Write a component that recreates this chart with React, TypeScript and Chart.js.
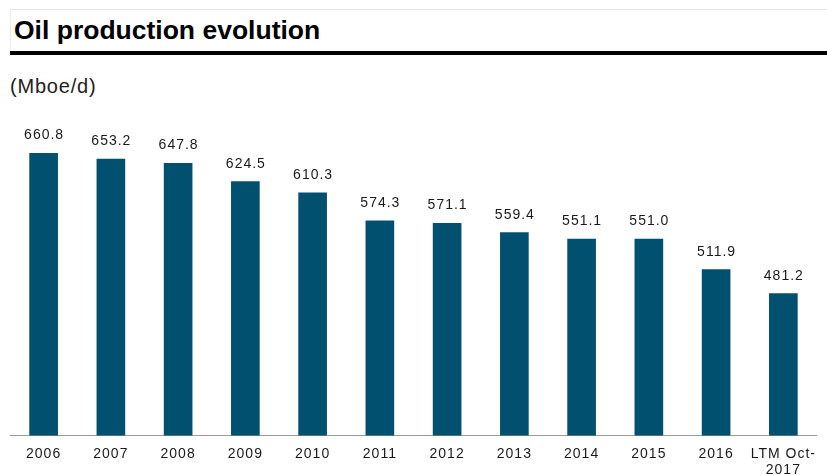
import React, { useEffect, useRef } from "react";
import { Chart, registerables } from "chart.js";

Chart.register(...registerables);

const categories: (string | string[])[] = [
  "2006", "2007", "2008", "2009", "2010", "2011",
  "2012", "2013", "2014", "2015", "2016", ["LTM Oct-", "2017"],
];
const production = [660.8, 653.2, 647.8, 624.5, 610.3, 574.3, 571.1, 559.4, 551.1, 551.0, 511.9, 481.2];

const FONT = "'Liberation Sans', Arial, sans-serif";

const valueLabels = {
  id: "valueLabels",
  afterDatasetsDraw(chart: any) {
    const ctx = chart.ctx;
    const meta = chart.getDatasetMeta(0);
    ctx.save();
    ctx.font = `14px ${FONT}`;
    (ctx as any).letterSpacing = "1px";
    ctx.fillStyle = "#1a1a1a";
    ctx.textAlign = "center";
    ctx.textBaseline = "alphabetic";
    meta.data.forEach((bar: any, i: number) => {
      const v = chart.data.datasets[0].data[i] as number;
      ctx.fillText(v.toFixed(1), bar.x + 0.5, bar.y - 14);
    });
    ctx.restore();
  },
};

const spacing = {
  id: "spacing",
  beforeDraw(chart: any) {
    (chart.ctx as any).letterSpacing = "1px";
  },
};

export default function App() {
  const ref = useRef<HTMLCanvasElement>(null);
  useEffect(() => {
    if (!ref.current) return;
    const chart = new Chart(ref.current, {
      type: "bar",
      data: {
        labels: categories as any,
        datasets: [
          {
            data: production,
            backgroundColor: "#02506f",
            barThickness: 28,
          },
        ],
      },
      options: {
        responsive: false,
        animation: false,
        layout: { padding: 0 },
        plugins: {
          legend: { display: false },
          tooltip: { enabled: false },
        },
        scales: {
          x: {
            grid: { display: false, drawTicks: false },
            border: { display: true, color: "#9a9a9a", width: 1 },
            ticks: {
              color: "#1a1a1a",
              font: { family: FONT, size: 14, lineHeight: 1.2 },
              padding: 10,
              maxRotation: 0,
              autoSkip: false,
            },
          },
          y: {
            display: false,
            min: 300,
            max: 702,
          },
        },
      },
      plugins: [spacing, valueLabels],
    });
    return () => chart.destroy();
  }, []);

  return (
    <div
      style={{
        position: "fixed",
        left: 0,
        top: 0,
        width: 827,
        height: 475,
        background: "#fff",
        overflow: "hidden",
        fontFamily: FONT,
      }}
    >
      <div
        style={{
          position: "absolute",
          left: 10,
          top: 9,
          width: 817,
          height: 42,
          borderTop: "1px solid #e4e4e4",
          borderLeft: "1px solid #ececec",
          boxSizing: "border-box",
        }}
      />
      <div
        style={{
          position: "absolute",
          left: 14,
          top: 17,
          fontSize: 26.5,
          lineHeight: "26.5px",
          fontWeight: "bold",
          color: "#000",
          whiteSpace: "nowrap",
        }}
      >
        Oil production evolution
      </div>
      <div
        style={{
          position: "absolute",
          left: 10,
          top: 51,
          width: 817,
          height: 4,
          background: "#000",
        }}
      />
      <div
        style={{
          position: "absolute",
          left: 10,
          top: 76,
          fontSize: 20,
          lineHeight: "20px",
          letterSpacing: "0.8px",
          color: "#222",
          whiteSpace: "nowrap",
        }}
      >
        (Mboe/d)
      </div>
      <canvas
        ref={ref}
        width={812}
        height={368}
        style={{ position: "absolute", left: 10, top: 121, width: 812, height: 368 }}
      />
    </div>
  );
}
